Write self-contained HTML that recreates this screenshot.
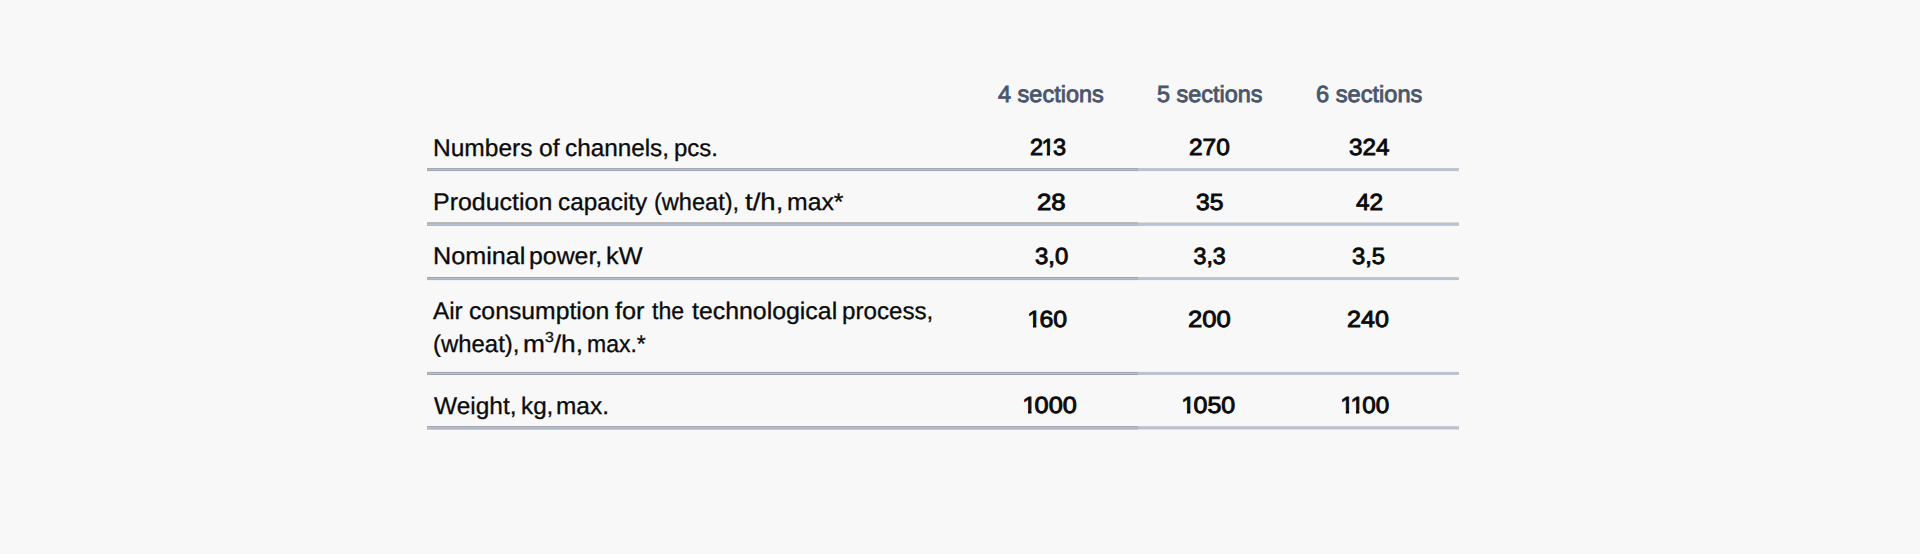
<!DOCTYPE html>
<html lang="en">
<head>
<meta charset="utf-8">
<title>Technical specifications</title>
<style>
html,body{margin:0;padding:0;}
body{width:1920px;height:554px;background:#f8f8f8;position:relative;overflow:hidden;
 font-family:"Liberation Sans",sans-serif;}
.t{position:absolute;white-space:nowrap;font-size:25px;line-height:30px;transform-origin:0 0;color:#0b0b0b;text-rendering:geometricPrecision;}
.t sup{font-size:14.5px;line-height:0;vertical-align:baseline;position:relative;top:-10px;}
.l{font-size:24px;-webkit-text-stroke:0.3px #0b0b0b;}
.v{font-size:23.2px;font-kerning:none;-webkit-text-stroke:0.9px #0b0b0b;}
.v i{font-style:normal;display:inline-block;margin:0 -1.6px;clip-path:polygon(-2px 0,15px 0,15px 20px,8.4px 20px,8.4px 27px,5.3px 27px,5.3px 20px,-2px 20px);}
.h{font-size:23.3px;color:#4a566b;-webkit-text-stroke:0.85px #4a566b;}
svg{position:absolute;left:0;top:0;}
</style>
</head>
<body>
<svg width="1920" height="554" viewBox="0 0 1920 554" shape-rendering="crispEdges">
<rect x="427" y="168" width="711" height="1" fill="#a3a7ae"/><rect x="1138" y="168" width="321" height="1" fill="#c2c5cf"/>
<rect x="427" y="169" width="711" height="1" fill="#b3bfd1"/><rect x="1138" y="169" width="321" height="1" fill="#b8c4d6"/>
<rect x="427" y="170" width="711" height="1" fill="#a3acb9"/><rect x="1138" y="170" width="321" height="1" fill="#b8c2d0"/>
<rect x="427" y="171" width="711" height="1" fill="#eeeeee"/><rect x="1138" y="171" width="321" height="1" fill="#f3f3f4"/>
<rect x="427" y="222" width="711" height="1" fill="#bcbcbd"/><rect x="1138" y="222" width="321" height="1" fill="#dadbdc"/>
<rect x="427" y="223" width="711" height="1" fill="#a9b5c7"/><rect x="1138" y="223" width="321" height="1" fill="#b7c3d5"/>
<rect x="427" y="224" width="711" height="1" fill="#b5c0d0"/><rect x="1138" y="224" width="321" height="1" fill="#b9c4d4"/>
<rect x="427" y="225" width="711" height="1" fill="#b3b6ba"/><rect x="1138" y="225" width="321" height="1" fill="#c6c8cc"/>
<rect x="427" y="277" width="711" height="1" fill="#9fa4ad"/><rect x="1138" y="277" width="321" height="1" fill="#c2c5cf"/>
<rect x="427" y="278" width="711" height="1" fill="#b3bfd1"/><rect x="1138" y="278" width="321" height="1" fill="#b8c4d6"/>
<rect x="427" y="279" width="711" height="1" fill="#abb1bc"/><rect x="1138" y="279" width="321" height="1" fill="#b8c2d0"/>
<rect x="427" y="280" width="711" height="1" fill="#f0f0f0"/><rect x="1138" y="280" width="321" height="1" fill="#f3f3f4"/>
<rect x="427" y="371" width="711" height="1" fill="#eeeeed"/><rect x="1138" y="371" width="321" height="1" fill="#f2f2f2"/>
<rect x="427" y="372" width="711" height="1" fill="#a3acb9"/><rect x="1138" y="372" width="321" height="1" fill="#b9c2cf"/>
<rect x="427" y="373" width="711" height="1" fill="#b4c0d1"/><rect x="1138" y="373" width="321" height="1" fill="#b8c4d6"/>
<rect x="427" y="374" width="711" height="1" fill="#a1a4ab"/><rect x="1138" y="374" width="321" height="1" fill="#bfc2ca"/>
<rect x="427" y="426" width="711" height="1" fill="#a5a8ad"/><rect x="1138" y="426" width="321" height="1" fill="#c9cbcf"/>
<rect x="427" y="427" width="711" height="1" fill="#b3bfd0"/><rect x="1138" y="427" width="321" height="1" fill="#b7c3d5"/>
<rect x="427" y="428" width="711" height="1" fill="#aab5c5"/><rect x="1138" y="428" width="321" height="1" fill="#b5c1d2"/>
<rect x="427" y="429" width="711" height="1" fill="#c9cacc"/><rect x="1138" y="429" width="321" height="1" fill="#dfe0e2"/>
</svg>
<div class="row">
<div class="vals"><span class="t h" style="left:997.85px;top:79px;transform:scaleX(1.0082)">4 sections</span> <span class="t h" style="left:1157.20px;top:79px;transform:scaleX(1.0058)">5 sections</span> <span class="t h" style="left:1315.94px;top:79px;transform:scaleX(1.0140)">6 sections</span></div>
</div>
<div class="row">
<div class="lab"><span class="t l" style="left:433.21px;top:134px;transform:scaleX(1.0221)">Numbers</span> <span class="t l" style="left:538.83px;top:134px;transform:scaleX(1.0256)">of</span> <span class="t l" style="left:565.49px;top:134px;transform:scaleX(1.0125)">channels,</span> <span class="t l" style="left:674.30px;top:134px;transform:scaleX(0.9988)">pcs.</span></div>
<div class="vals"><span class="t v" style="left:1030.49px;top:132px;transform:scaleX(1.0146)">2<i>1</i>3</span> <span class="t v" style="left:1189.21px;top:132px;transform:scaleX(1.0560)">270</span> <span class="t v" style="left:1348.74px;top:132px;transform:scaleX(1.0458)">324</span></div>
</div>
<div class="row">
<div class="lab"><span class="t l" style="left:433.18px;top:188px;transform:scaleX(1.0395)">Production</span> <span class="t l" style="left:557.64px;top:188px;transform:scaleX(1.0137)">capacity</span> <span class="t l" style="left:654.27px;top:188px;transform:scaleX(0.9820)">(wheat),</span> <span class="t l" style="left:744.71px;top:188px;transform:scaleX(1.1484)">t/h,</span> <span class="t l" style="left:786.55px;top:188px;transform:scaleX(1.0321)">max*</span></div>
<div class="vals"><span class="t v" style="left:1036.92px;top:187px;transform:scaleX(1.1122)">28</span> <span class="t v" style="left:1196.23px;top:187px;transform:scaleX(1.0640)">35</span> <span class="t v" style="left:1355.60px;top:187px;transform:scaleX(1.0520)">42</span></div>
</div>
<div class="row">
<div class="lab"><span class="t l" style="left:433.16px;top:242px;transform:scaleX(1.0501)">Nominal</span> <span class="t l" style="left:529.35px;top:242px;transform:scaleX(1.0349)">power,</span> <span class="t l" style="left:606.17px;top:242px;transform:scaleX(1.0526)">kW</span></div>
<div class="vals"><span class="t v" style="left:1034.74px;top:241px;transform:scaleX(1.0317)">3,0</span> <span class="t v" style="left:1193.50px;top:241px;transform:scaleX(1.0000)">3,3</span> <span class="t v" style="left:1352.49px;top:241px;transform:scaleX(1.0238)">3,5</span></div>
</div>
<div class="row">
<div class="lab"><span class="t l" style="left:433.40px;top:297px;transform:scaleX(1.0121)">Air</span> <span class="t l" style="left:468.83px;top:297px;transform:scaleX(1.0310)">consumption</span> <span class="t l" style="left:615.24px;top:297px;transform:scaleX(1.0509)">for</span> <span class="t l" style="left:651.76px;top:297px;transform:scaleX(0.9643)">the</span> <span class="t l" style="left:692.24px;top:297px;transform:scaleX(1.0361)">technological</span> <span class="t l" style="left:842.24px;top:297px;transform:scaleX(1.0069)">process,</span> <span class="t l" style="left:432.85px;top:330px;transform:scaleX(0.9964)">(wheat),</span> <span class="t l" style="left:523.36px;top:330px;transform:scaleX(1.0966)">m<sup>3</sup>/h,</span> <span class="t l" style="left:587.31px;top:330px;transform:scaleX(0.9588)">max.*</span></div>
<div class="vals"><span class="t v" style="left:1028.73px;top:304px;transform:scaleX(1.0719)"><i>1</i>60</span> <span class="t v" style="left:1187.67px;top:304px;transform:scaleX(1.1067)">200</span> <span class="t v" style="left:1346.69px;top:304px;transform:scaleX(1.0827)">240</span></div>
</div>
<div class="row">
<div class="lab"><span class="t l" style="left:433.75px;top:392px;transform:scaleX(1.0190)">Weight,</span> <span class="t l" style="left:520.58px;top:392px;transform:scaleX(1.0105)">kg,</span> <span class="t l" style="left:556.22px;top:392px;transform:scaleX(1.0175)">max.</span></div>
<div class="vals"><span class="t v" style="left:1024.48px;top:390px;transform:scaleX(1.0921)"><i>1</i>000</span> <span class="t v" style="left:1183.23px;top:390px;transform:scaleX(1.0785)"><i>1</i>050</span> <span class="t v" style="left:1342.24px;top:390px;transform:scaleX(1.0449)"><i>1</i><i>1</i>00</span></div>
</div>
</body>
</html>
